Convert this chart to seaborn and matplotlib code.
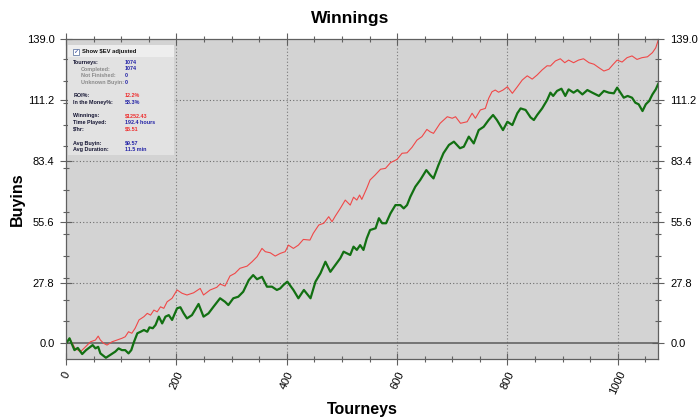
import matplotlib
matplotlib.use('Agg')
import matplotlib.pyplot as plt
from matplotlib.patches import Rectangle
from matplotlib.ticker import FixedLocator, MultipleLocator
import seaborn as sns

# Dados (torneios, buyins)
ev_tourneys = [0, 6, 16, 26, 35, 44, 53, 58, 62, 68, 74, 83, 92, 101, 107, 113, 119, 125, 132,
               141, 147, 153, 159, 165, 171, 177, 183, 192, 201, 210, 219, 231, 243, 249, 261,
               273, 279, 288, 297, 306, 315, 328, 337, 346, 355, 361, 370, 379, 388, 397, 403,
               412, 421, 430, 442, 448, 458, 467, 476, 482, 488, 497, 506, 515, 521, 527, 532,
               536, 545, 551, 560, 570, 579, 588, 600, 609, 618, 627, 636, 645, 654, 660, 666,
               678, 691, 700, 706, 715, 727, 736, 742, 751, 760, 766, 772, 778, 784, 792, 800,
               809, 818, 827, 836, 845, 854, 863, 872, 878, 887, 896, 904, 911, 920, 929, 938,
               948, 957, 966, 975, 984, 992, 999, 1008, 1017, 1026, 1035, 1044, 1054, 1063, 1069, 1074]
ev_buyins = [0, 2.3, -2.3, -3.8, -1.6, 0.7, 1.5, 3.3, 1.5, 0, -0.8, 0.7, 1.5, 2.3, 3.0, 5.3, 4.6,
             6.9, 10.7, 12.2, 13.7, 12.9, 15.2, 14.4, 16.7, 16.0, 19.0, 20.6, 24.4, 22.9, 22.1,
             23.1, 25.1, 22.1, 24.4, 25.6, 27.1, 26.2, 30.8, 32.0, 34.3, 35.3, 37.3, 39.6, 43.4,
             41.9, 41.4, 39.9, 41.1, 41.9, 44.9, 43.4, 44.9, 47.5, 47.2, 50.3, 54.1, 54.9, 57.9,
             55.6, 58.2, 61.7, 65.5, 63.2, 66.8, 65.5, 67.8, 65.8, 70.9, 74.7, 76.9, 79.6, 80.0,
             82.6, 84.1, 86.9, 87.1, 89.6, 92.9, 94.5, 97.8, 96.7, 96.0, 100.6, 103.6, 102.9,
             103.6, 100.6, 101.3, 105.2, 102.9, 106.7, 107.4, 112.0, 115.0, 115.8, 114.8, 115.8,
             117.3, 114.3, 117.3, 120.4, 122.3, 120.8, 122.7, 125.0, 126.9, 126.8, 129.1, 130.1,
             128.3, 129.5, 128.3, 129.5, 130.1, 128.3, 127.6, 126.0, 124.5, 125.3, 127.6, 129.5,
             128.6, 130.6, 131.4, 129.8, 130.6, 131.0, 132.9, 135.1, 139.0]

real_tourneys = [0, 6, 15, 21, 29, 36, 44, 48, 53, 58, 62, 68, 72, 80, 89, 95, 101, 107, 113, 118,
                 123, 129, 135, 141, 147, 151, 157, 162, 168, 174, 180, 186, 192, 201, 207, 213,
                 219, 228, 240, 249, 258, 267, 279, 288, 294, 303, 312, 321, 331, 339, 346, 355,
                 364, 373, 382, 388, 394, 401, 412, 421, 431, 443, 452, 461, 470, 479, 488, 497,
                 503, 515, 521, 527, 533, 539, 545, 551, 561, 567, 573, 580, 588, 597, 606, 612,
                 618, 624, 633, 642, 653, 660, 666, 675, 684, 694, 703, 714, 721, 730, 739, 748,
                 757, 766, 774, 781, 792, 800, 809, 818, 824, 833, 842, 848, 854, 863, 872, 878,
                 883, 890, 898, 905, 911, 920, 927, 936, 945, 954, 966, 975, 984, 993, 999, 1005,
                 1011, 1018, 1026, 1032, 1038, 1045, 1051, 1057, 1063, 1069, 1074]
real_buyins = [0, 2.3, -3.1, -2.1, -4.9, -3.1, -1.6, -0.8, -2.3, -1.6, -4.6, -5.8, -6.6, -5.3,
               -3.8, -2.3, -3.1, -3.1, -4.6, -3.1, 0.7, 4.6, 5.3, 6.1, 5.3, 7.3, 6.9, 8.4, 12.2,
               9.1, 12.2, 12.9, 10.7, 16.0, 16.5, 13.7, 11.4, 12.9, 18.0, 12.2, 13.7, 16.7, 20.6,
               19.0, 17.5, 20.6, 21.3, 23.6, 28.9, 31.2, 29.3, 30.4, 25.9, 25.9, 24.4, 25.1, 26.7,
               28.2, 24.4, 20.6, 24.4, 20.6, 28.2, 32.0, 37.3, 32.7, 35.8, 38.9, 41.9, 40.4, 44.2,
               42.7, 44.9, 42.7, 48.0, 51.8, 52.6, 57.2, 54.9, 54.9, 59.4, 63.2, 63.2, 61.7, 63.2,
               67.0, 71.6, 74.7, 79.2, 77.0, 75.4, 81.5, 86.9, 90.7, 92.2, 89.2, 89.9, 94.5, 91.4,
               97.5, 99.0, 102.1, 104.4, 102.1, 97.5, 101.3, 99.8, 105.2, 107.4, 106.7, 103.3,
               102.1, 104.4, 107.4, 111.2, 114.6, 113.1, 115.4, 116.4, 113.1, 116.1, 114.6, 115.8,
               113.8, 115.8, 114.6, 113.1, 115.4, 114.6, 114.3, 116.9, 114.6, 112.3, 113.1, 112.3,
               110.0, 109.3, 106.2, 109.3, 110.8, 113.8, 116.1, 118.9]

y_ticks = [0.0, 27.8, 55.6, 83.4, 111.2, 139.0]
x_ticks = [0, 200, 400, 600, 800, 1000]

# Painel de estatisticas
stats_rows = [
    ('Tourneys:', '1074', 'main', 'blue'),
    ('Completed:', '1074', 'sub', 'blue'),
    ('Not Finished:', '0', 'sub', 'blue'),
    ('Unknown Buyin:', '0', 'sub', 'blue'),
    ('ROI%:', '12.2%', 'main', 'red'),
    ('In the Money%:', '58.3%', 'main', 'blue'),
    ('Winnings:', '$1252.43', 'main', 'red'),
    ('Time Played:', '192.4 hours', 'main', 'blue'),
    ('$/hr:', '$6.51', 'main', 'red'),
    ('Avg Buyin:', '$9.57', 'main', 'blue'),
    ('Avg Duration:', '11.5 min', 'main', 'blue'),
]
row_y = [62.3, 69, 75.7, 82.3, 95.7, 102.3, 115.7, 122.3, 129, 143, 149.5]

sns.set_style('ticks', {'axes.facecolor': '#d3d3d3', 'axes.edgecolor': '#606060'})
plt.rcParams['font.family'] = ['Liberation Sans', 'DejaVu Sans']
plt.rcParams['text.color'] = 'black'
plt.rcParams['xtick.labelcolor'] = 'black'
plt.rcParams['ytick.labelcolor'] = 'black'

W, H = 700, 419
fig = plt.figure(figsize=(7, 4.19), dpi=100)
ax = fig.add_axes([66.2 / W, 1 - 359.3 / H, 592.3 / W, 320 / H])


def px(x, y):
    return x / W, 1 - y / H


sns.lineplot(x=ev_tourneys, y=ev_buyins, ax=ax, color='#f04848', lw=0.8)
sns.lineplot(x=real_tourneys, y=real_buyins, ax=ax, color='#127012', lw=1.6)

ax.axhline(0, color='#5a5a5a', lw=1.1, zorder=1)
ax.set_xlim(0, 1074)
ax.set_ylim(-7.3, 139.0)

ax.yaxis.set_major_locator(FixedLocator(y_ticks))
ax.yaxis.set_minor_locator(MultipleLocator(10))
ax.xaxis.set_major_locator(FixedLocator(x_ticks))
ax.xaxis.set_minor_locator(MultipleLocator(50))
ax.set_yticklabels([f'{v:.1f}' for v in y_ticks])
ax.set_xticklabels([str(v) for v in x_ticks], rotation=65, ha='center')

ax.tick_params(which='both', top=True, right=True, labelright=True, direction='inout',
               color='#606060', labelsize=8, labelcolor='black')
ax.tick_params(which='major', length=9, width=0.8)
ax.tick_params(which='minor', length=5, width=0.8)
ax.tick_params(axis='x', pad=3)
ax.tick_params(axis='y', pad=4)

for v in y_ticks[1:-1]:
    ax.axhline(v, color='#6e6e6e', lw=0.8, ls=(0, (1, 2)), zorder=0.5)
for v in x_ticks[1:]:
    ax.axvline(v, color='#7a7a7a', lw=0.8, ls=(0, (1, 2)), zorder=0.5)

for s in ax.spines.values():
    s.set_linewidth(0.9)
ax.set_xlabel('')
ax.set_ylabel('')

fig.text(*px(350, 18), 'Winnings', ha='center', va='center', fontsize=12.5, weight='bold')
fig.text(*px(362, 409), 'Tourneys', ha='center', va='center', fontsize=11.5, weight='bold')
fig.text(*px(17, 199), 'Buyins', ha='center', va='center', rotation=90, fontsize=11.5, weight='bold')

# caixa de informacoes
box = Rectangle(px(68, 155), 106 / W, 110 / H, transform=fig.transFigure,
                facecolor='#e2e2e2', edgecolor='none', zorder=5)
fig.patches.append(box)
header = Rectangle(px(68, 57.5), 106 / W, 12 / H, transform=fig.transFigure,
                   facecolor='#eeeeee', edgecolor='none', zorder=5)
fig.patches.append(header)
check = Rectangle(px(73, 55), 5.5 / W, 5.5 / H, transform=fig.transFigure,
                  facecolor='white', edgecolor='#6a7fa8', lw=0.6, zorder=6)
fig.patches.append(check)
fig.text(*px(75.8, 52), '✓', ha='center', va='center', fontsize=4.5, color='#2a3f9a',
         family=['DejaVu Sans'], zorder=7)
fig.text(*px(82.5, 52), 'Show $EV adjusted', ha='left', va='center', fontsize=4.2,
         weight='bold', color='#111111', zorder=7)

colors = {'blue': '#2323a6', 'red': '#ee3030'}
for (label, value, kind, col), y in zip(stats_rows, row_y):
    lx = 73.3 if kind == 'main' else 80.7
    lc = '#141432' if kind == 'main' else '#8a8a8a'
    fig.text(*px(lx, y), label, ha='left', va='center', fontsize=3.9, weight='bold',
             color=lc, zorder=7)
    fig.text(*px(125, y), value, ha='left', va='center', fontsize=3.9, weight='bold',
             color=colors[col], zorder=7)

fig.savefig('out.png', dpi=100, facecolor='white')
